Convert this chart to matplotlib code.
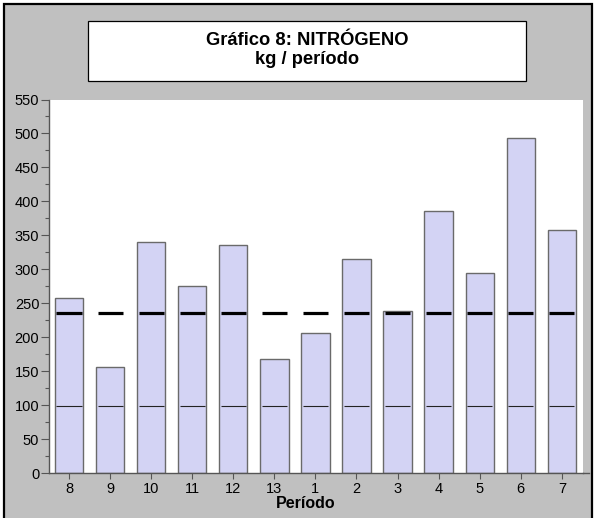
import matplotlib
matplotlib.use("Agg")
import matplotlib.pyplot as plt
from matplotlib.patches import Rectangle
from matplotlib.lines import Line2D
from matplotlib.ticker import MultipleLocator

plt.rcParams['font.family'] = ['Liberation Sans', 'DejaVu Sans']

periods = ['8', '9', '10', '11', '12', '13', '1', '2', '3', '4', '5', '6', '7']
values = [258, 157, 340, 275, 336, 168, 207, 315, 239, 386, 295, 493, 358]
mean_level = 236
low_level = 99
title_lines = ["Gráfico 8: NITRÓGENO", "kg / período"]
xlabel = "Período"

W, H = 595, 518
fig = plt.figure(figsize=(W / 100, H / 100), dpi=100)
fig.patch.set_facecolor('white')

def fx(px):
    return px / W

def fy(py):
    return 1 - py / H

# gray panel with black border
fig.patches.append(Rectangle((fx(4), fy(522)), fx(592) - fx(4), fy(4) - fy(522),
                             transform=fig.transFigure, facecolor='#C0C0C0',
                             edgecolor='black', linewidth=1.6, zorder=-10))

# title box
fig.patches.append(Rectangle((fx(88), fy(81)), fx(526) - fx(88), fy(21) - fy(81),
                             transform=fig.transFigure, facecolor='white',
                             edgecolor='black', linewidth=0.9, zorder=-5))
fig.text(fx(307), fy(40.5), title_lines[0], ha='center', va='center',
         fontsize=13.2, fontweight='bold')
fig.text(fx(307), fy(60), title_lines[1], ha='center', va='center',
         fontsize=13.2, fontweight='bold')

ax_left, ax_right, ax_top, ax_bottom = 49, 583, 99.5, 473.3
ax = fig.add_axes([fx(ax_left), fy(ax_bottom), fx(ax_right) - fx(ax_left),
                   fy(ax_top) - fy(ax_bottom)])
ax.set_zorder(1)
ax.set_facecolor('white')

x = list(range(len(periods)))
ax.bar(x, values, width=0.69, color='#D3D3F4', edgecolor='#6A6A6A',
       linewidth=1.0, zorder=2)
seg = 0.305
ax.hlines([mean_level] * len(x), [i - seg for i in x], [i + seg for i in x],
          colors='black', linewidth=2.3, zorder=3)
ax.hlines([low_level] * len(x), [i - seg for i in x], [i + seg for i in x],
          colors='#222222', linewidth=0.8, zorder=3)

ax.set_xlim(-0.487, 12.515)
ax.set_ylim(0, 550)
ax.set_xticks(x)
ax.set_xticklabels(periods)
ax.yaxis.set_major_locator(MultipleLocator(50))
ax.yaxis.set_minor_locator(MultipleLocator(25))

for s in ['top', 'right']:
    ax.spines[s].set_visible(False)
for s in ['left', 'bottom']:
    ax.spines[s].set_color('#555555')
    ax.spines[s].set_linewidth(1.0)

ax.tick_params(axis='y', which='major', length=6, width=0.8, color='#555555',
               labelsize=10.5, pad=1)
ax.tick_params(axis='y', which='minor', length=3, width=0.8, color='#555555')
ax.tick_params(axis='x', which='major', length=4, width=0.8, color='#555555',
               labelsize=10.5, pad=2)

# extension of the x axis line beyond the plot area
fig.add_artist(Line2D([fx(ax_right), fx(589)], [fy(ax_bottom), fy(ax_bottom)],
                      color='#555555', linewidth=1.0, transform=fig.transFigure))

fig.text(fx(306), fy(504), xlabel, ha='center', va='center',
         fontsize=11.5, fontweight='bold')

fig.savefig('out.png', dpi=100, facecolor=fig.get_facecolor())
